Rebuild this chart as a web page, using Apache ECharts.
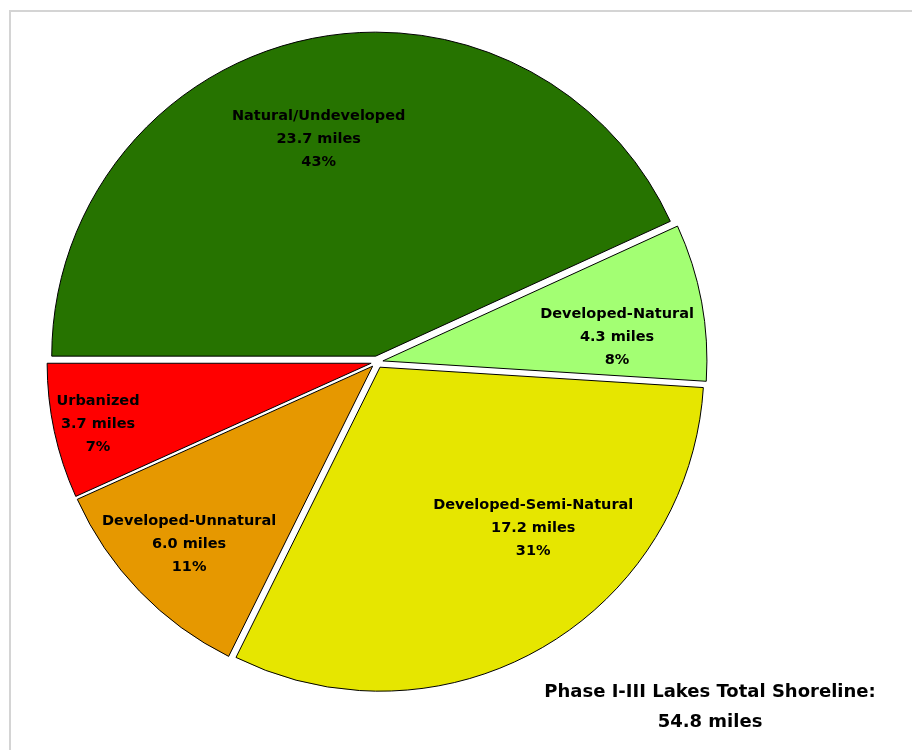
<!DOCTYPE html>
<html><head><meta charset="utf-8">
<script src="https://cdn.jsdelivr.net/npm/echarts@6/dist/echarts.min.js"></script>
<style>html,body{margin:0;padding:0;background:#fff}#c{width:912px;height:750px}</style>
</head><body><div id="c"></div>
<script>
const categories = ['Natural/Undeveloped', 'Developed-Natural', 'Developed-Semi-Natural', 'Developed-Unnatural', 'Urbanized'];
const miles = [23.7, 4.3, 17.2, 6.0, 3.7];
const percents = [43, 8, 31, 11, 7];
const totalMiles = 54.8;
const colors = ['#267300', '#A3FF73', '#E6E600', '#E69800', '#FF0000'];

// label placement style: fraction of radius, angular nudge (degrees) from slice bisector
const labelRadiusFrac = [0.712, 0.745, 0.703, 0.808, 0.882];
const labelAngleShift = [-2.35, 4.55, -13.3, -0.2, -0.4];

const CX = 377, CY = 362, R = 324;
const START = 270; // degrees clockwise from 12 o'clock (9 o'clock)
const sum = miles.reduce((a, b) => a + b, 0);
const mids = [];
let acc = START;
miles.forEach(v => { const span = v / sum * 360; mids.push((acc + span / 2) % 360); acc += span; });

const FONT = 'DejaVu Sans';
const chart = echarts.init(document.getElementById('c'));
chart.setOption({
  animation: false,
  polar: { center: [CX, CY], radius: R },
  angleAxis: { type: 'value', min: 0, max: 360, startAngle: 90, clockwise: true, show: false },
  radiusAxis: { type: 'value', min: 0, max: 1, show: false },
  graphic: [
    { type: 'rect', silent: true, shape: { x: 10, y: 11, width: 1000, height: 1000 },
      style: { fill: 'none', stroke: '#d4d4d4', lineWidth: 2 } },
    { type: 'text', silent: true, x: 710, y: 692,
      style: { text: 'Phase I-III Lakes Total Shoreline:', textAlign: 'center', textVerticalAlign: 'middle',
               fontFamily: FONT, fontWeight: 'bold', fontSize: 18, fill: '#000' } },
    { type: 'text', silent: true, x: 710, y: 722,
      style: { text: totalMiles.toFixed(1) + ' miles', textAlign: 'center', textVerticalAlign: 'middle',
               fontFamily: FONT, fontWeight: 'bold', fontSize: 18, fill: '#000' } }
  ],
  series: [{
    type: 'pie',
    z: 2,
    center: [CX, CY],
    radius: [0, R],
    startAngle: 180,
    clockwise: true,
    selectedMode: 'multiple',
    selectedOffset: 6,
    emphasis: { disabled: true },
    itemStyle: { borderColor: '#000', borderWidth: 1 },
    data: categories.map((c, i) => ({
      name: c, value: miles[i], selected: true,
      itemStyle: { color: colors[i] },
      select: { itemStyle: { color: colors[i], borderColor: '#000', borderWidth: 1 } }
    })),
    label: { show: false },
    labelLine: { show: false }
  }, {
    type: 'scatter',
    z: 10,
    coordinateSystem: 'polar',
    symbolSize: 1,
    itemStyle: { color: 'transparent', opacity: 1 },
    emphasis: { disabled: true },
    silent: true,
    data: categories.map((c, i) => ({ name: c, value: [labelRadiusFrac[i], (mids[i] + labelAngleShift[i] + 360) % 360] })),
    label: {
      show: true, position: 'inside',
      formatter: p => p.name + '\n' + miles[p.dataIndex].toFixed(1) + ' miles\n' + percents[p.dataIndex] + '%',
      fontFamily: FONT, fontWeight: 'bold', fontSize: 14.5, lineHeight: 23, color: '#000', opacity: 1,
      align: 'center', verticalAlign: 'middle'
    }
  }]
});
</script>
</body></html>
